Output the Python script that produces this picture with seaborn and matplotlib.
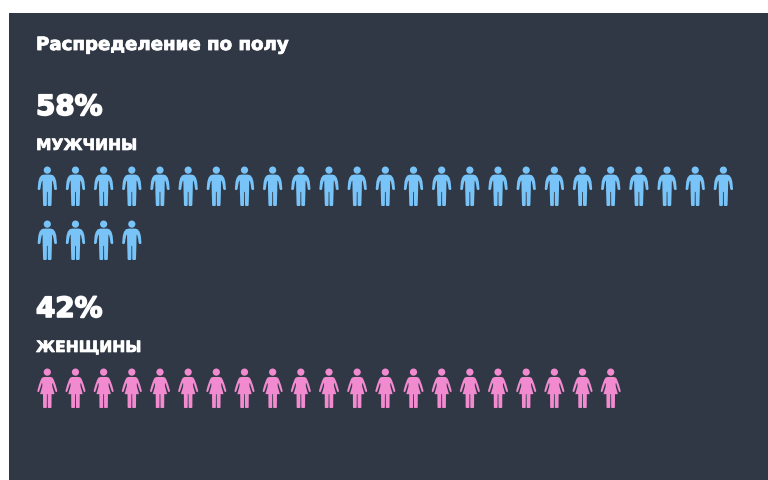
import matplotlib
matplotlib.use("Agg")
import matplotlib.pyplot as plt
import matplotlib.patheffects as pe
from matplotlib.patches import Rectangle
from matplotlib.path import Path
import numpy as np
import pandas as pd
import seaborn as sns

title = "Распределение по полу"
groups = ["МУЖЧИНЫ", "ЖЕНЩИНЫ"]
percents = [58, 42]
icon_counts = [29, 21]
per_row = 25

panel_color = "#303845"
group_colors = {"МУЖЧИНЫ": "#78C3F7", "ЖЕНЩИНЫ": "#F28AD0"}


def figure_path(half_outline):
    """Person glyph: a round head plus a body mirrored around x = 0."""
    pts = np.array(half_outline, dtype=float)
    mirrored = pts[::-1] * [-1, 1]
    body = np.vstack([pts, mirrored, pts[:1]])
    head = Path.circle((0, 16.8), 3.7)
    codes = [Path.MOVETO] + [Path.LINETO] * (len(body) - 2) + [Path.CLOSEPOLY]
    return Path.make_compound_path(head, Path(body, codes))


man_icon = figure_path([
    (0, 12.2), (3.5, 12.2), (6.0, 11.5), (8.0, 9.0), (9.2, 5.0), (9.9, -2.5),
    (9.3, -3.6), (7.9, -3.6), (7.0, -2.5), (6.5, 1.5), (5.6, 5.5), (4.9, 6.0),
    (4.7, -5.0), (4.3, -19.0), (3.7, -20.0), (1.0, -20.0), (0.5, -19.0),
    (0.4, -5.5), (0, -5.5),
])
woman_icon = figure_path([
    (0, 11.8), (3.5, 11.8), (5.5, 11.0), (6.8, 8.5), (8.6, 3.6), (10.3, -2.6),
    (9.6, -3.8), (8.5, -3.3), (7.0, 1.0), (5.6, 5.5), (5.0, 5.0), (5.2, 2.0),
    (7.4, -5.8), (4.4, -5.8), (4.3, -19.4), (3.7, -20.0), (1.0, -20.0),
    (0.5, -19.4), (0.4, -5.8), (0, -5.8),
])

# One row per icon: every icon stands for 2 % of the audience
rows = []
block_tops = [186.5, 388.5]
for group, count, top in zip(groups, icon_counts, block_tops):
    for i in range(count):
        rows.append({
            "group": group,
            "x": 47.3 + (i % per_row) * 28.17,
            "y": top + (i // per_row) * 54,
        })
icons = pd.DataFrame(rows)

sns.set_theme(style="white")
plt.rcParams["font.family"] = ["DejaVu Sans"]

fig = plt.figure(figsize=(7.68, 4.8), dpi=100, facecolor="white")
ax = fig.add_axes([0, 0, 1, 1])
ax.set_xlim(0, 768)
ax.set_ylim(480, 0)
ax.axis("off")
ax.add_patch(Rectangle((9, 13), 759, 467, facecolor=panel_color, edgecolor="none", zorder=0))

sns.scatterplot(
    data=icons, x="x", y="y", hue="group", style="group",
    palette=group_colors,
    markers={"МУЖЧИНЫ": man_icon, "ЖЕНЩИНЫ": woman_icon},
    s=829, linewidth=0, legend=False, ax=ax, zorder=3, clip_on=False,
)
ax.set_xlim(0, 768)
ax.set_ylim(480, 0)


def heavy(width):
    # A thin white outline brings the bold face up to a black weight
    return [pe.withStroke(linewidth=width, foreground="white")]


ax.text(36, 50, title, color="white", fontsize=13.1, fontweight="bold",
        va="baseline", path_effects=heavy(0.6))
for group, pct, pct_y, label_y in zip(groups, percents, [115, 317], [150, 352]):
    ax.text(36, pct_y, f"{pct}%", color="white", fontsize=20, fontweight="bold",
            va="baseline", path_effects=heavy(1.2))
    ax.text(36, label_y, group, color="white", fontsize=11.2, fontweight="bold",
            va="baseline", path_effects=heavy(0.5))

fig.savefig("out.png", dpi=100, facecolor="white")
